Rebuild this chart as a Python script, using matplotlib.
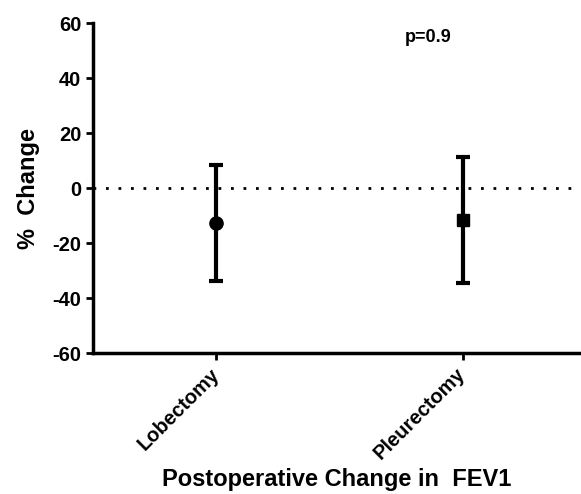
import numpy as np
import matplotlib.pyplot as plt

plt.rcParams['font.family'] = ['Liberation Sans', 'DejaVu Sans']
plt.rcParams['font.weight'] = 'bold'
plt.rcParams['axes.unicode_minus'] = False

groups = ["Lobectomy", "Pleurectomy"]
means = [-12.7, -11.5]
sds = [21.1, 22.8]
markers = ["o", "s"]
msizes = [9.5, 9]

fig = plt.figure(figsize=(5.81, 4.94), dpi=100)
ax = fig.add_axes([0.160, 0.285, 0.84, 0.668])

x = np.arange(len(groups))
for i in range(len(groups)):
    ax.errorbar(x[i], means[i], yerr=sds[i], fmt=markers[i], color="black",
                ms=msizes[i], elinewidth=3, capsize=4.7, capthick=3, zorder=3)

# dotted reference line at zero
ax.axhline(0, color="black", lw=2, linestyle=(0, (1, 3.5)), zorder=1)

ax.set_xlim(-0.5, 1.48)
ax.set_ylim(-60, 60)
ax.set_yticks([-60, -40, -20, 0, 20, 40, 60])
ax.set_xticks(x)
ax.set_xticklabels(groups, rotation=45, ha="right", va="center",
                   rotation_mode="anchor", fontsize=14.5, fontweight="bold")
ax.tick_params(axis="y", labelsize=14.5, width=2, length=5, direction="out")
ax.tick_params(axis="x", width=2, length=5, direction="out", pad=8)

for s in ["top", "right"]:
    ax.spines[s].set_visible(False)
for s in ["left", "bottom"]:
    ax.spines[s].set_linewidth(2.5)

ax.set_ylabel("%  Change", fontsize=17, fontweight="bold", labelpad=9)
ax.set_xlabel("Postoperative Change in  FEV1", fontsize=17, fontweight="bold", labelpad=3)
ax.text(0.862, 54.7, "p=0.9", fontsize=13, fontweight="bold", ha="center", va="center")

plt.savefig("out.png", dpi=100)
plt.close()
